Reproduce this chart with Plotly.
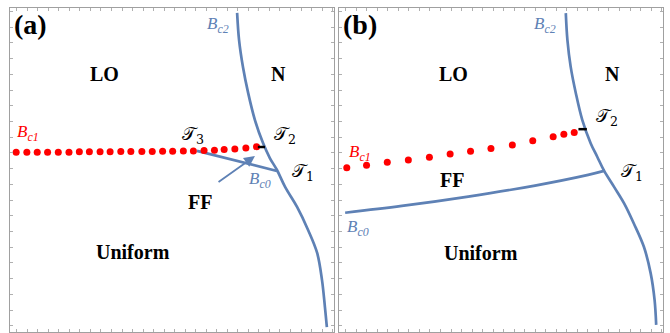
import plotly.graph_objects as go

BLUE = "#5E81B5"
RED = "#FF0000"

# Panel (a)
a_bc2_x = [0.701, 0.707, 0.719, 0.735, 0.756, 0.781, 0.802, 0.824, 0.849, 0.886, 0.920, 0.948, 0.963, 0.972, 0.978]
a_bc2_y = [0.985, 0.901, 0.818, 0.738, 0.654, 0.583, 0.537, 0.500, 0.448, 0.386, 0.315, 0.244, 0.160, 0.077, 0.015]
a_bc1_x = [0.019, 0.052, 0.084, 0.116, 0.149, 0.182, 0.214, 0.245, 0.278, 0.309, 0.342, 0.373,
           0.407, 0.439, 0.471, 0.502, 0.535, 0.566, 0.599, 0.631, 0.661, 0.694, 0.728, 0.761]
a_bc1_y = [0.555, 0.555, 0.555, 0.555, 0.555, 0.555, 0.556, 0.556, 0.556, 0.556, 0.557, 0.557,
           0.557, 0.557, 0.558, 0.558, 0.559, 0.559, 0.560, 0.561, 0.563, 0.565, 0.568, 0.572]
a_bc0_x = [0.577, 0.824]
a_bc0_y = [0.559, 0.497]
a_tick_x = [0.765, 0.787]
a_tick_y = [0.571, 0.571]

# Panel (b)
b_bc2_x = [0.700, 0.705, 0.715, 0.731, 0.751, 0.777, 0.797, 0.818, 0.849, 0.880, 0.910, 0.941, 0.962, 0.974, 0.979]
b_bc2_y = [0.984, 0.901, 0.819, 0.737, 0.654, 0.582, 0.541, 0.498, 0.448, 0.397, 0.335, 0.263, 0.181, 0.099, 0.022]
b_bc1_x = [0.024, 0.085, 0.149, 0.214, 0.279, 0.343, 0.406, 0.469, 0.535, 0.598, 0.661, 0.694, 0.726]
b_bc1_y = [0.507, 0.515, 0.524, 0.531, 0.539, 0.549, 0.558, 0.566, 0.577, 0.590, 0.603, 0.610, 0.616]
b_bc0_x = [0.019, 0.194, 0.399, 0.605, 0.769, 0.821]
b_bc0_y = [0.368, 0.389, 0.418, 0.452, 0.485, 0.498]
b_tick_x = [0.739, 0.765]
b_tick_y = [0.626, 0.626]

fig = go.Figure()

def add_panel(xa, ya, bc2x, bc2y, bc1x, bc1y, bc0x, bc0y, tx, ty, bc0_shape):
    fig.add_trace(go.Scatter(x=bc2x, y=bc2y, mode="lines", line=dict(color=BLUE, width=2.7, shape="spline"),
                             xaxis=xa, yaxis=ya, showlegend=False, hoverinfo="skip"))
    fig.add_trace(go.Scatter(x=bc0x, y=bc0y, mode="lines", line=dict(color=BLUE, width=2.7, shape=bc0_shape),
                             xaxis=xa, yaxis=ya, showlegend=False, hoverinfo="skip"))
    fig.add_trace(go.Scatter(x=bc1x, y=bc1y, mode="markers", marker=dict(color=RED, size=7),
                             xaxis=xa, yaxis=ya, showlegend=False, hoverinfo="skip"))
    fig.add_trace(go.Scatter(x=tx, y=ty, mode="lines", line=dict(color="black", width=2.5),
                             xaxis=xa, yaxis=ya, showlegend=False, hoverinfo="skip"))

add_panel("x", "y", a_bc2_x, a_bc2_y, a_bc1_x, a_bc1_y, a_bc0_x, a_bc0_y, a_tick_x, a_tick_y, "linear")
add_panel("x2", "y2", b_bc2_x, b_bc2_y, b_bc1_x, b_bc1_y, b_bc0_x, b_bc0_y, b_tick_x, b_tick_y, "spline")

BOLD = dict(family="Liberation Serif", size=20, color="black")
ITAL = "Liberation Serif"
TFONT = dict(family="DejaVu Serif", size=18, color="black")

def lab(xr, yr, x, y, text, font, xanchor="center"):
    fig.add_annotation(xref=xr, yref=yr, x=x, y=y, text=text, showarrow=False, font=font,
                       xanchor=xanchor, yanchor="middle")

def bsym(sub):
    return "<i>B</i><sub><i>%s</i></sub>" % sub

def tsym(n):
    return "𝒯<sub>%s</sub>" % n

for xr, yr, tag in [("x", "y", "(a)"), ("x2", "y2", "(b)")]:
    lab(xr, yr, 0.005, 0.948, "<b>%s</b>" % tag, dict(family="Liberation Serif", size=28, color="black"), "left")

# Panel (a) labels
lab("x", "y", 0.293, 0.796, "<b>LO</b>", BOLD)
lab("x", "y", 0.830, 0.796, "<b>N</b>", BOLD)
lab("x", "y", 0.380, 0.247, "<b>Uniform</b>", BOLD)
lab("x", "y", 0.586, 0.401, "<b>FF</b>", BOLD)
lab("x", "y", 0.642, 0.948, bsym("c2"), dict(family=ITAL, size=17, color=BLUE))
lab("x", "y", 0.056, 0.614, bsym("c1"), dict(family=ITAL, size=17, color=RED))
lab("x", "y", 0.772, 0.469, bsym("c0"), dict(family=ITAL, size=17, color=BLUE))
lab("x", "y", 0.565, 0.608, tsym(3), TFONT)
lab("x", "y", 0.849, 0.608, tsym(2), TFONT)
lab("x", "y", 0.904, 0.494, tsym(1), TFONT)
fig.add_annotation(xref="x", yref="y", axref="x", ayref="y", x=0.756, y=0.543, ax=0.639, ay=0.460,
                   text="", showarrow=True, arrowhead=2, arrowsize=1.2, arrowwidth=1.8, arrowcolor=BLUE)

# Panel (b) labels
lab("x2", "y2", 0.352, 0.796, "<b>LO</b>", BOLD)
lab("x2", "y2", 0.845, 0.796, "<b>N</b>", BOLD)
lab("x2", "y2", 0.348, 0.469, "<b>FF</b>", BOLD)
lab("x2", "y2", 0.437, 0.244, "<b>Uniform</b>", BOLD)
lab("x2", "y2", 0.636, 0.948, bsym("c2"), dict(family=ITAL, size=17, color=BLUE))
lab("x2", "y2", 0.065, 0.552, bsym("c1"), dict(family=ITAL, size=17, color=RED))
lab("x2", "y2", 0.060, 0.321, bsym("c0"), dict(family=ITAL, size=17, color=BLUE))
lab("x2", "y2", 0.826, 0.664, tsym(2), TFONT)
lab("x2", "y2", 0.903, 0.494, tsym(1), TFONT)

axcommon = dict(range=[0, 1], showgrid=False, zeroline=False, showline=True, linecolor="#A0A0A0",
                linewidth=1, mirror="allticks", ticks="inside", ticklen=3, tickcolor="#B0B0B0",
                showticklabels=False, fixedrange=True)

fig.update_layout(
    width=670, height=333, margin=dict(l=0, r=0, t=0, b=0),
    paper_bgcolor="white", plot_bgcolor="white",
    xaxis=dict(domain=[10/670, 334/670], tick0=0.0207, dtick=0.0325, **axcommon),
    yaxis=dict(domain=[1-332/333, 1-8/333], tick0=0.019, dtick=0.0485, **axcommon),
    xaxis2=dict(domain=[339/670, 663/670], anchor="y2", tick0=0.0207, dtick=0.0325, **axcommon),
    yaxis2=dict(domain=[1-332/333, 1-8/333], anchor="x2", tick0=0.019, dtick=0.0485, **axcommon),
)

fig.write_html("out.html", config={"displayModeBar": False},
               post_script="document.body.style.margin='0';document.body.style.overflow='hidden';")
